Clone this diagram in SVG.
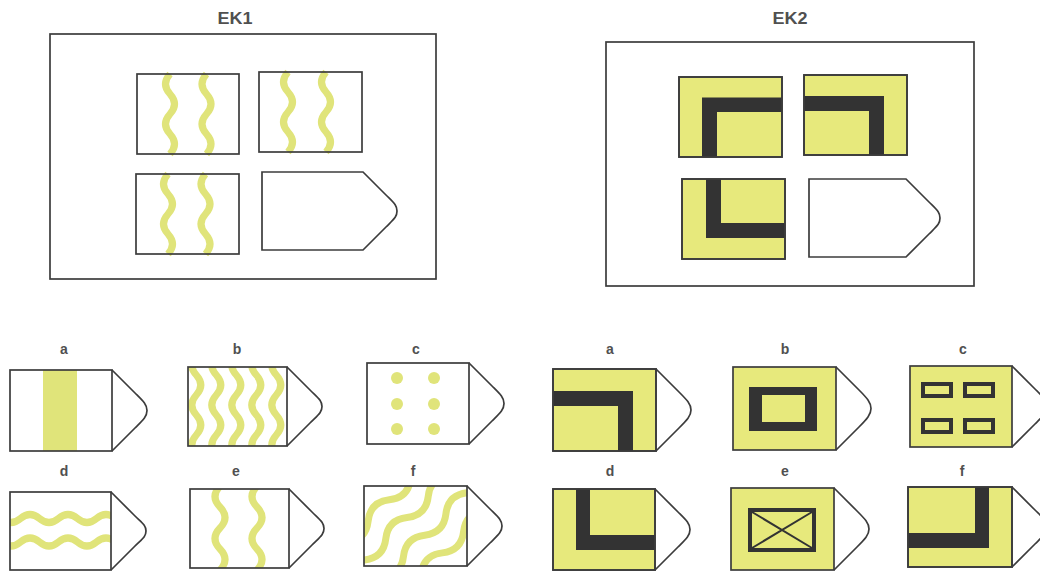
<svg xmlns="http://www.w3.org/2000/svg" width="1040" height="571" viewBox="0 0 1040 571">
<style>
.lbl{font-family:"Liberation Sans",Arial,sans-serif;font-weight:bold;fill:#505050;text-anchor:middle}
.big{font-size:16px}
.sm{font-size:14px}
.bd{fill:none;stroke:#3c3c3c;stroke-width:1.7}
.bw{fill:#fff;stroke:#3c3c3c;stroke-width:1.7}
.yf{fill:#e7e97c;stroke:#3c3c3c;stroke-width:1.7}
.wv{fill:none;stroke:#e0e47a;stroke-width:7}
.dk{fill:#333}
.dks{fill:none;stroke:#333}
.dot{fill:#e0e47a}
</style>
<defs>
<clipPath id="cb"><rect x="188" y="367" width="99" height="79"/></clipPath>
<clipPath id="cd"><rect x="10" y="492" width="101" height="78"/></clipPath>
<clipPath id="ce"><rect x="190" y="489" width="99" height="79"/></clipPath>
<clipPath id="cf"><rect x="364" y="486" width="103" height="80"/></clipPath>
</defs>
<rect width="1040" height="571" fill="#fff"/>

<g id="ek1">
<text class="lbl big" x="235" y="24" textLength="35" lengthAdjust="spacingAndGlyphs">EK1</text>
<rect class="bd" x="50" y="34" width="386" height="245"/>
<g id="ek1-t1">
<path class="wv" d="M170,74 q-9,10 0,20 t0,20 t0,20 t0,20 M206.5,74 q-9,10 0,20 t0,20 t0,20 t0,20"/>
<rect class="bd" x="137" y="74" width="102" height="80"/>
</g>
<g id="ek1-t2">
<path class="wv" d="M288,72 q-9,10 0,20 t0,20 t0,20 t0,20 M326,72 q-9,10 0,20 t0,20 t0,20 t0,20"/>
<rect class="bd" x="259" y="72" width="103" height="80"/>
</g>
<g id="ek1-t3">
<path class="wv" d="M168,174 q-9,10 0,20 t0,20 t0,20 t0,20 M205.5,174 q-9,10 0,20 t0,20 t0,20 t0,20"/>
<rect class="bd" x="136" y="174" width="103" height="80"/>
</g>
<g id="ek1-t4">
<path class="bw" d="M262,172 L363,172 L386,195 C394,203 397,205 397,211 C397,217 394,219 386,227 L363,250 L262,250 Z"/>
</g>
</g>

<g id="ek2">
<text class="lbl big" x="790" y="24" textLength="35" lengthAdjust="spacingAndGlyphs">EK2</text>
<rect class="bd" x="606" y="42" width="368" height="244"/>
<g id="ek2-t1">
<rect class="yf" x="679" y="77" width="103" height="80"/>
<path class="dk" d="M702,157 L702,97.5 L782,97.5 L782,112 L717,112 L717,157 Z"/>
<rect class="bd" x="679" y="77" width="103" height="80"/>
</g>
<g id="ek2-t2">
<rect class="yf" x="804" y="75" width="103" height="80"/>
<path class="dk" d="M804,96 L884,96 L884,155 L869,155 L869,111 L804,111 Z"/>
<rect class="bd" x="804" y="75" width="103" height="80"/>
</g>
<g id="ek2-t3">
<rect class="yf" x="682" y="179" width="103" height="80"/>
<path class="dk" d="M706,179 L721,179 L721,223 L785,223 L785,238 L706,238 Z"/>
<rect class="bd" x="682" y="179" width="103" height="80"/>
</g>
<g id="ek2-t4">
<path class="bw" d="M809,179 L906,179 L929,202 C937,210 940,212 940,218 C940,224 937,226 929,234 L906,257 L809,257 Z"/>
</g>
</g>

<g id="opt1-a">
<text class="lbl sm" x="64" y="354">a</text>
<rect x="43" y="370" width="34" height="81" fill="#e0e47a"/>
<rect class="bd" x="10" y="370" width="102" height="81"/>
<path class="bd" d="M112,370 L135,393 C143,401 147,404.5 147,410.5 C147,416.5 143,420 135,428 L112,451"/>
</g>
<g id="opt1-b">
<text class="lbl sm" x="237" y="354">b</text>
<g clip-path="url(#cb)">
<path class="wv" d="M196.3,355 q-9,10 0,20 t0,20 t0,20 t0,20 t0,20 M216.3,355 q-9,10 0,20 t0,20 t0,20 t0,20 t0,20 M236.3,355 q-9,10 0,20 t0,20 t0,20 t0,20 t0,20 M256.3,355 q-9,10 0,20 t0,20 t0,20 t0,20 t0,20 M276.3,355 q-9,10 0,20 t0,20 t0,20 t0,20 t0,20"/>
</g>
<rect class="bd" x="188" y="367" width="99" height="79"/>
<path class="bd" d="M287,367 L310,390 C318,398 322,400.5 322,406.5 C322,412.5 318,415 310,423 L287,446"/>
</g>
<g id="opt1-c">
<text class="lbl sm" x="416" y="354">c</text>
<circle class="dot" cx="397" cy="378" r="6"/>
<circle class="dot" cx="434" cy="378" r="6"/>
<circle class="dot" cx="397" cy="404" r="6"/>
<circle class="dot" cx="434" cy="404" r="6"/>
<circle class="dot" cx="397" cy="429" r="6"/>
<circle class="dot" cx="434" cy="429" r="6"/>
<rect class="bd" x="367" y="363" width="102" height="81"/>
<path class="bd" d="M469,363 L492,386 C500,394 504,397.5 504,403.5 C504,409.5 500,413 492,421 L469,444"/>
</g>
<g id="opt1-d">
<text class="lbl sm" x="64" y="476">d</text>
<g clip-path="url(#cd)">
<path class="wv" d="M1.5,518.5 q9.5,8 19,0 t19,0 t19,0 t19,0 t19,0 t19,0 t19,0 M1.5,542 q9.5,8 19,0 t19,0 t19,0 t19,0 t19,0 t19,0 t19,0"/>
</g>
<rect class="bd" x="10" y="492" width="101" height="78"/>
<path class="bd" d="M111,492 L134,515 C142,523 146,525 146,531 C146,537 142,539 134,547 L111,570"/>
</g>
<g id="opt1-e">
<text class="lbl sm" x="236" y="476">e</text>
<g clip-path="url(#ce)">
<path class="wv" d="M220,486 q-10,10.5 0,21 t0,21 t0,21 t0,21 M257,486 q-10,10.5 0,21 t0,21 t0,21 t0,21"/>
</g>
<rect class="bd" x="190" y="489" width="99" height="79"/>
<path class="bd" d="M289,489 L312,512 C320,520 324,522.5 324,528.5 C324,534.5 320,537 312,545 L289,568"/>
</g>
<g id="opt1-f">
<text class="lbl sm" x="413" y="476">f</text>
<g clip-path="url(#cf)">
<g transform="rotate(-45 415.5 526)">
<path class="wv" d="M325.5,489 q15,-12 30,0 t30,0 t30,0 t30,0 t30,0 t30,0 M325.5,514 q15,-12 30,0 t30,0 t30,0 t30,0 t30,0 t30,0 M325.5,539 q15,-12 30,0 t30,0 t30,0 t30,0 t30,0 t30,0 M325.5,564 q15,-12 30,0 t30,0 t30,0 t30,0 t30,0 t30,0"/>
</g>
</g>
<rect class="bd" x="364" y="486" width="103" height="80"/>
<path class="bd" d="M467,486 L490,509 C498,517 502,520 502,526 C502,532 498,535 490,543 L467,566"/>
</g>

<g id="opt2-a">
<text class="lbl sm" x="610" y="354">a</text>
<rect class="yf" x="553" y="369" width="103" height="82"/>
<path class="dk" d="M553,391 L633,391 L633,451 L618,451 L618,406 L553,406 Z"/>
<rect class="bd" x="553" y="369" width="103" height="82"/>
<path class="bd" d="M656,369 L679,392 C687,400 691,404 691,410 C691,416 687,420 679,428 L656,451"/>
</g>
<g id="opt2-b">
<text class="lbl sm" x="785" y="354">b</text>
<rect class="yf" x="733" y="367" width="103" height="83"/>
<path class="dk" fill-rule="evenodd" d="M749,387 H817 V431 H749 Z M762,395 V422 H805 V395 Z"/>
<path class="bd" d="M836,367 L859,390 C867,398 871,402.5 871,408.5 C871,414.5 867,419 859,427 L836,450"/>
</g>
<g id="opt2-c">
<text class="lbl sm" x="963" y="354">c</text>
<rect class="yf" x="910" y="366" width="102" height="81"/>
<rect class="dks" stroke-width="4" x="923" y="384" width="28" height="12"/>
<rect class="dks" stroke-width="4" x="965" y="384" width="28" height="12"/>
<rect class="dks" stroke-width="4" x="923" y="420" width="28" height="12"/>
<rect class="dks" stroke-width="4" x="965" y="420" width="28" height="12"/>
<path class="bd" d="M1012,366 L1035,389 C1043,397 1047,400.5 1047,406.5 C1047,412.5 1043,416 1035,424 L1012,447"/>
</g>
<g id="opt2-d">
<text class="lbl sm" x="610" y="476">d</text>
<rect class="yf" x="553" y="489" width="102" height="81"/>
<path class="dk" d="M576,489 L590,489 L590,535 L655,535 L655,550 L576,550 Z"/>
<rect class="bd" x="553" y="489" width="102" height="81"/>
<path class="bd" d="M655,489 L678,512 C686,520 690,523.5 690,529.5 C690,535.5 686,539 678,547 L655,570"/>
</g>
<g id="opt2-e">
<text class="lbl sm" x="785" y="476">e</text>
<rect class="yf" x="731" y="488" width="103" height="82"/>
<rect class="dks" stroke-width="4" x="750" y="510" width="64" height="40"/>
<path class="dks" stroke-width="2" d="M752,512 L812,548 M752,548 L812,512"/>
<path class="bd" d="M834,488 L857,511 C865,519 869,523 869,529 C869,535 865,539 857,547 L834,570"/>
</g>
<g id="opt2-f">
<text class="lbl sm" x="962" y="476">f</text>
<rect class="yf" x="908" y="487" width="104" height="80"/>
<path class="dk" d="M975,487 L989,487 L989,548 L908,548 L908,533 L975,533 Z"/>
<rect class="bd" x="908" y="487" width="104" height="80"/>
<path class="bd" d="M1012,487 L1035,510 C1043,518 1047,521 1047,527 C1047,533 1043,536 1035,544 L1012,567"/>
</g>
</svg>
